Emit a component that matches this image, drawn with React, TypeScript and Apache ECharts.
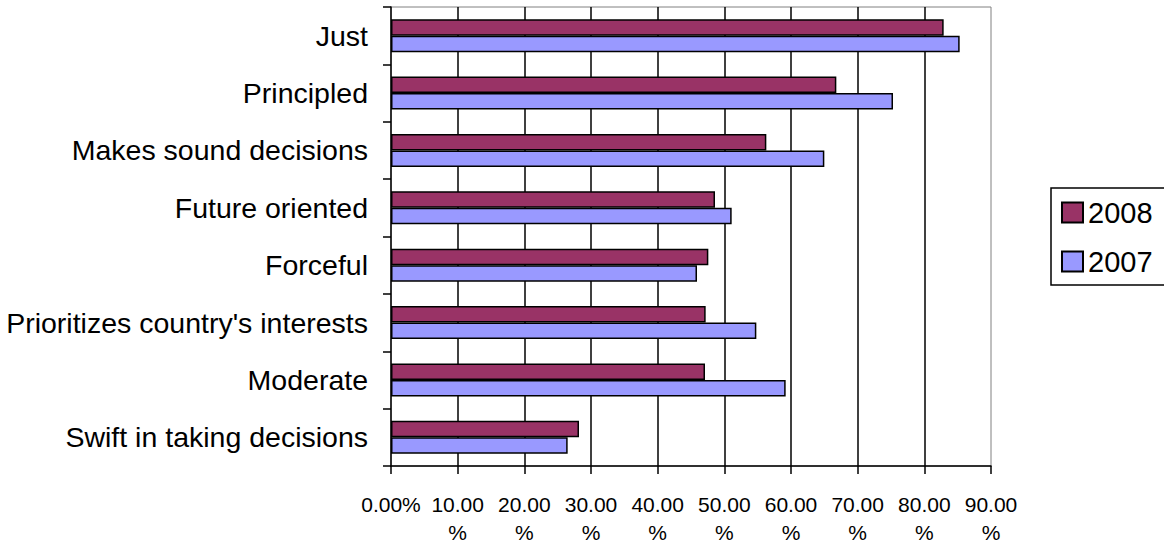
import React, { useEffect, useRef } from "react";
import * as echarts from "echarts";

const categories = [
  "Just",
  "Principled",
  "Makes sound decisions",
  "Future oriented",
  "Forceful",
  "Prioritizes country's interests",
  "Moderate",
  "Swift in taking decisions",
];
const values2008 = [82.9, 66.8, 56.3, 48.6, 47.6, 47.2, 47.1, 28.2];
const values2007 = [85.3, 75.3, 65.0, 51.1, 45.9, 54.8, 59.2, 26.5];
const xTickLabels = [
  "0.00%",
  "10.00\n%",
  "20.00\n%",
  "30.00\n%",
  "40.00\n%",
  "50.00\n%",
  "60.00\n%",
  "70.00\n%",
  "80.00\n%",
  "90.00\n%",
];

const FONT = "'Liberation Sans', Arial, sans-serif";

export default function App() {
  const ref = useRef<HTMLDivElement>(null);
  useEffect(() => {
    if (!ref.current) return;
    const chart = echarts.init(ref.current, undefined, { renderer: "svg" });
    chart.setOption({
      animation: false,
      backgroundColor: "#ffffff",
      textStyle: { fontFamily: FONT },
      grid: {
        left: 391,
        right: 173,
        top: 7,
        bottom: 79,
        show: true,
        borderColor: "#808080",
        borderWidth: 1,
        backgroundColor: "transparent",
      },
      legend: {
        orient: "vertical",
        left: 1051,
        top: 188,
        padding: [10, 16, 9, 10],
        itemWidth: 21,
        itemHeight: 20,
        itemGap: 20,
        borderColor: "#000",
        borderWidth: 1.5,
        backgroundColor: "#fff",
        textStyle: { fontSize: 29, color: "#000", fontFamily: FONT, lineHeight: 29 },
        data: [
          { name: "2008", icon: "rect" },
          { name: "2007", icon: "rect" },
        ],
      },
      xAxis: {
        type: "value",
        min: 0,
        max: 90,
        interval: 10,
        axisLine: { show: true, lineStyle: { color: "#000", width: 1.5 } },
        axisTick: { show: true, length: 8, lineStyle: { color: "#000", width: 1.5 } },
        splitLine: { show: true, showMinLine: false, showMaxLine: false, lineStyle: { color: "#000", width: 1.5 } },
        axisLabel: {
          fontSize: 21,
          color: "#000",
          fontFamily: FONT,
          lineHeight: 28,
          margin: 24,
          formatter: (v: number) => xTickLabels[Math.round(v / 10)] ?? "",
        },
      },
      yAxis: {
        type: "category",
        inverse: true,
        data: categories,
        axisLine: { show: true, lineStyle: { color: "#000", width: 1.5 } },
        axisTick: { show: true, length: 8, lineStyle: { color: "#000", width: 1.5 } },
        axisLabel: { fontSize: 28.5, color: "#000", fontFamily: FONT, margin: 23 },
      },
      series: [
        {
          name: "2008",
          type: "bar",
          data: values2008,
          barWidth: 16.5,
          barGap: "0%",
          itemStyle: { color: "#993366", borderColor: "#000", borderWidth: 1.5 },
        },
        {
          name: "2007",
          type: "bar",
          data: values2007,
          barWidth: 16.5,
          barGap: "0%",
          itemStyle: { color: "#9999FF", borderColor: "#000", borderWidth: 1.5 },
        },
      ],
    });
    return () => chart.dispose();
  }, []);
  return (
    <div
      ref={ref}
      style={{ position: "fixed", left: 0, top: 0, width: 1164, height: 546 }}
    />
  );
}
